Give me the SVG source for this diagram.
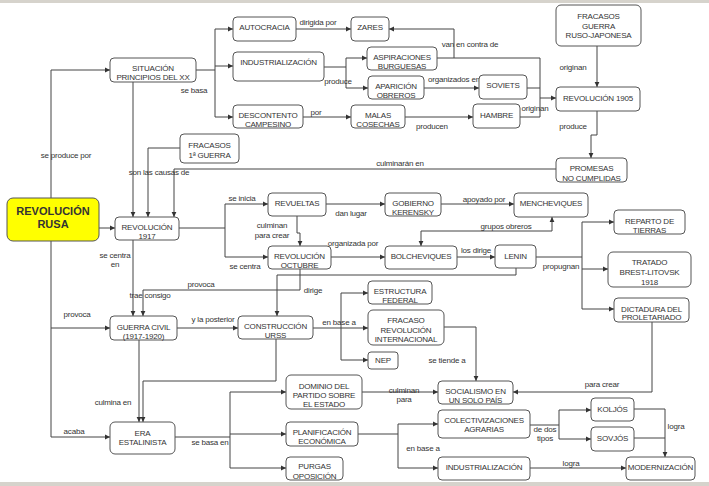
<svg xmlns="http://www.w3.org/2000/svg" width="709" height="486" viewBox="0 0 709 486">
<style>
.n rect{fill:#fff;stroke:#555;stroke-width:1}
text{font-family:"Liberation Sans",Arial,sans-serif;font-size:8px;fill:#333;text-anchor:middle;letter-spacing:-0.2px}
.c path{fill:none;stroke:#444;stroke-width:1}
.big{font-size:11px;font-weight:bold;letter-spacing:0}
</style>
<defs>
<marker id="a" markerWidth="6" markerHeight="6" refX="5" refY="3" orient="auto" markerUnits="userSpaceOnUse"><path d="M0,0.6 L5,3 L0,5.4 z" fill="#333"/></marker>
</defs>
<rect x="0" y="0" width="709" height="486" fill="#fff"/>
<rect x="0" y="0" width="709" height="3" fill="#d6d3cc"/>
<rect x="0" y="482" width="709" height="4" fill="#d6d3cc"/>

<g class="c">
<path d="M51,198 V70 H110" marker-end="url(#a)"/>
<path d="M99,228 H115" marker-end="url(#a)"/>
<path d="M51,241 V437 H110" marker-end="url(#a)"/>
<path d="M51,328 H110" marker-end="url(#a)"/>
<path d="M196,70 H215 M215,29 V117"/>
<path d="M215,29 H233" marker-end="url(#a)"/>
<path d="M215,66 H233" marker-end="url(#a)"/>
<path d="M215,117 H233" marker-end="url(#a)"/>
<path d="M133,82 V217" marker-end="url(#a)"/>
<path d="M180,148 H148 V217" marker-end="url(#a)"/>
<path d="M556,169 H174 V217" marker-end="url(#a)"/>
<path d="M296,29 H351" marker-end="url(#a)"/>
<path d="M324,67 H346 M346,58 V88"/>
<path d="M346,58 H367" marker-end="url(#a)"/>
<path d="M346,88 H368" marker-end="url(#a)"/>
<path d="M437,58 H540"/>
<path d="M454,58 V29 H389" marker-end="url(#a)"/>
<path d="M424,88 H479" marker-end="url(#a)"/>
<path d="M527,88 H540 M520,117 H540 M540,58 V117"/>
<path d="M540,98 H556" marker-end="url(#a)"/>
<path d="M303,117 H351" marker-end="url(#a)"/>
<path d="M405,117 H473" marker-end="url(#a)"/>
<path d="M597,46 V87" marker-end="url(#a)"/>
<path d="M597,111 V135 H591 V158" marker-end="url(#a)"/>
<path d="M179,228 H225 M225,204 V257"/>
<path d="M225,204 H268" marker-end="url(#a)"/>
<path d="M225,257 H268" marker-end="url(#a)"/>
<path d="M326,204 H385" marker-end="url(#a)"/>
<path d="M297,216 V233 H300 V246" marker-end="url(#a)"/>
<path d="M331,257 H385" marker-end="url(#a)"/>
<path d="M441,204 H514" marker-end="url(#a)"/>
<path d="M421,231 V246" marker-end="url(#a)"/>
<path d="M421,231 H552 V217" marker-end="url(#a)"/>
<path d="M457,257 H495" marker-end="url(#a)"/>
<path d="M536,257 H582 M582,222 V309"/>
<path d="M582,222 H614" marker-end="url(#a)"/>
<path d="M582,269 H608" marker-end="url(#a)"/>
<path d="M582,309 H614" marker-end="url(#a)"/>
<path d="M516,268 V275 H277 V316" marker-end="url(#a)"/>
<path d="M300,269 V290 H143 V316" marker-end="url(#a)"/>
<path d="M133,240 V316" marker-end="url(#a)"/>
<path d="M177,328 H238" marker-end="url(#a)"/>
<path d="M139,340 V422" marker-end="url(#a)"/>
<path d="M276,339 V381 H143 V422" marker-end="url(#a)"/>
<path d="M175,437 H230 M230,392 V468"/>
<path d="M230,392 H286" marker-end="url(#a)"/>
<path d="M230,434 H286" marker-end="url(#a)"/>
<path d="M230,468 H286" marker-end="url(#a)"/>
<path d="M313,328 H368" marker-end="url(#a)"/>
<path d="M341,293 V360"/>
<path d="M341,293 H368" marker-end="url(#a)"/>
<path d="M341,360 H368" marker-end="url(#a)"/>
<path d="M444,327 H476 V381" marker-end="url(#a)"/>
<path d="M362,392 H438" marker-end="url(#a)"/>
<path d="M652,322 V392 H513" marker-end="url(#a)"/>
<path d="M358,434 H398 M398,424 V468"/>
<path d="M398,424 H438" marker-end="url(#a)"/>
<path d="M398,468 H438" marker-end="url(#a)"/>
<path d="M530,425 H559 M559,410 V439"/>
<path d="M559,410 H591" marker-end="url(#a)"/>
<path d="M559,439 H591" marker-end="url(#a)"/>
<path d="M634,409 H665 M634,438 H665"/>
<path d="M665,409 V457" marker-end="url(#a)"/>
<path d="M530,468 H626" marker-end="url(#a)"/>
</g>

<g id="labels">
<text x="66" y="158">se produce por</text>
<text x="194" y="93">se basa</text>
<text x="159" y="175">son las causas de</text>
<text x="400" y="166">culminarán en</text>
<text x="318" y="25">dirigida por</text>
<text x="338" y="84">produce</text>
<text x="470" y="47">van en contra de</text>
<text x="454" y="82">organizados en</text>
<text x="535" y="111">originan</text>
<text x="316" y="115">por</text>
<text x="432" y="129">producen</text>
<text x="573" y="70">originan</text>
<text x="573" y="129">produce</text>
<text x="242" y="201">se inicia</text>
<text x="245" y="269">se centra</text>
<text x="351" y="216">dan lugar</text>
<text x="272" y="228">culminan</text>
<text x="272" y="238">para crear</text>
<text x="353" y="246">organizada por</text>
<text x="484" y="202">apoyado por</text>
<text x="506" y="228.5">grupos obreros</text>
<text x="476" y="253">los dirige</text>
<text x="561" y="269">propugnan</text>
<text x="313" y="293">dirige</text>
<text x="201" y="287">provoca</text>
<text x="150" y="298">trae consigo</text>
<text x="115" y="258">se centra</text>
<text x="115" y="267">en</text>
<text x="77" y="317">provoca</text>
<text x="74" y="434">acaba</text>
<text x="213" y="322">y la posterior</text>
<text x="113" y="405">culmina en</text>
<text x="210" y="445">se basa en</text>
<text x="339" y="325">en base a</text>
<text x="447" y="363">se tiende a</text>
<text x="404" y="393">culminan</text>
<text x="404" y="402">para</text>
<text x="602" y="387">para crear</text>
<text x="423" y="451">en base a</text>
<text x="545" y="432">de dos</text>
<text x="545" y="441">tipos</text>
<text x="676" y="429">logra</text>
<text x="571" y="465.5">logra</text>
</g>

<g id="rusa" class="n"><rect x="7" y="198" width="92" height="43" rx="6" style="fill:#ffff00"/><text class="big" x="53" y="215">REVOLUCIÓN</text><text class="big" x="53" y="227.5">RUSA</text></g>
<g id="situacion" class="n"><rect x="110" y="58" width="86" height="24" rx="4"/><text x="153" y="71">SITUACIÓN</text><text x="153" y="80">PRINCIPIOS DEL XX</text></g>
<g id="fracasos1" class="n"><rect x="180" y="134" width="59" height="29" rx="4"/><text x="209.5" y="148">FRACASOS</text><text x="209.5" y="157.5">1ª GUERRA</text></g>
<g id="autocracia" class="n"><rect x="233" y="17" width="63" height="24" rx="4"/><text x="264.5" y="30">AUTOCRACIA</text></g>
<g id="zares" class="n"><rect x="351" y="17" width="38" height="24" rx="4"/><text x="370" y="30">ZARES</text></g>
<g id="industrializacion" class="n"><rect x="233" y="52" width="91" height="29" rx="4"/><text x="278.5" y="65">INDUSTRIALIZACIÓN</text></g>
<g id="aspiraciones" class="n"><rect x="367" y="47" width="70" height="23" rx="4"/><text x="402" y="59.5">ASPIRACIONES</text><text x="402" y="68.5">BURGUESAS</text></g>
<g id="aparicion" class="n"><rect x="368" y="76" width="56" height="23" rx="4"/><text x="396" y="89">APARICIÓN</text><text x="396" y="98">OBREROS</text></g>
<g id="descontento" class="n"><rect x="233" y="105" width="70" height="23" rx="4"/><text x="268" y="118">DESCONTENTO</text><text x="268" y="127">CAMPESINO</text></g>
<g id="malas" class="n"><rect x="351" y="105" width="54" height="23" rx="4"/><text x="378" y="118">MALAS</text><text x="378" y="127">COSECHAS</text></g>
<g id="soviets" class="n"><rect x="479" y="75" width="48" height="24" rx="4"/><text x="503" y="88">SOVIETS</text></g>
<g id="hambre" class="n"><rect x="473" y="104" width="47" height="24" rx="4"/><text x="496.5" y="118">HAMBRE</text></g>
<g id="rusojaponesa" class="n"><rect x="556" y="5" width="85" height="41" rx="5"/><text x="598.5" y="19">FRACASOS</text><text x="598.5" y="28.5">GUERRA</text><text x="598.5" y="38">RUSO-JAPONESA</text></g>
<g id="rev1905" class="n"><rect x="556" y="87" width="84" height="24" rx="4"/><text x="598" y="100.5">REVOLUCIÓN 1905</text></g>
<g id="promesas" class="n"><rect x="556" y="158" width="71" height="24" rx="4"/><text x="591.5" y="171">PROMESAS</text><text x="591.5" y="180.5">NO CUMPLIDAS</text></g>
<g id="rev1917" class="n"><rect x="115" y="217" width="64" height="23" rx="4"/><text x="147" y="229.5">REVOLUCIÓN</text><text x="147" y="239">1917</text></g>
<g id="revueltas" class="n"><rect x="268" y="193" width="58" height="23" rx="4"/><text x="297" y="206">REVUELTAS</text></g>
<g id="kerensky" class="n"><rect x="385" y="193" width="56" height="23" rx="4"/><text x="413" y="206">GOBIERNO</text><text x="413" y="215">KERENSKY</text></g>
<g id="octubre" class="n"><rect x="268" y="246" width="63" height="23" rx="4"/><text x="299.5" y="258.5">REVOLUCIÓN</text><text x="299.5" y="267.5">OCTUBRE</text></g>
<g id="bolcheviques" class="n"><rect x="385" y="246" width="72" height="23" rx="4"/><text x="421" y="258.5">BOLCHEVIQUES</text></g>
<g id="mencheviques" class="n"><rect x="514" y="193" width="74" height="24" rx="4"/><text x="551" y="205.5">MENCHEVIQUES</text></g>
<g id="lenin" class="n"><rect x="495" y="245" width="41" height="23" rx="4"/><text x="515.5" y="259">LENIN</text></g>
<g id="reparto" class="n"><rect x="614" y="210" width="71" height="24" rx="4"/><text x="649.5" y="223.5">REPARTO DE</text><text x="649.5" y="233">TIERRAS</text></g>
<g id="tratado" class="n"><rect x="608" y="252" width="83" height="35" rx="5"/><text x="649.5" y="265">TRATADO</text><text x="649.5" y="275">BREST-LITOVSK</text><text x="649.5" y="284.5">1918</text></g>
<g id="dictadura" class="n"><rect x="614" y="298" width="75" height="24" rx="4"/><text x="651.5" y="311.5">DICTADURA DEL</text><text x="651.5" y="320">PROLETARIADO</text></g>
<g id="estructura" class="n"><rect x="368" y="281" width="64" height="23" rx="4"/><text x="400" y="294">ESTRUCTURA</text><text x="400" y="303">FEDERAL</text></g>
<g id="fracasori" class="n"><rect x="368" y="310" width="76" height="35" rx="5"/><text x="406" y="323">FRACASO</text><text x="406" y="333">REVOLUCIÓN</text><text x="406" y="342">INTERNACIONAL</text></g>
<g id="nep" class="n"><rect x="368" y="352" width="30" height="17" rx="3"/><text x="383" y="363">NEP</text></g>
<g id="construccion" class="n"><rect x="238" y="316" width="75" height="23" rx="4"/><text x="275.5" y="329">CONSTRUCCIÓN</text><text x="275.5" y="338">URSS</text></g>
<g id="guerracivil" class="n"><rect x="110" y="316" width="67" height="24" rx="4"/><text x="143.5" y="329.5">GUERRA CIVIL</text><text x="143.5" y="338.5">(1917-1920)</text></g>
<g id="era" class="n"><rect x="110" y="422" width="65" height="32" rx="5"/><text x="142.5" y="435.5">ERA</text><text x="142.5" y="444.5">ESTALINISTA</text></g>
<g id="dominio" class="n"><rect x="286" y="375" width="76" height="34" rx="5"/><text x="324" y="389">DOMINIO DEL</text><text x="324" y="398">PARTIDO SOBRE</text><text x="324" y="407">EL ESTADO</text></g>
<g id="planificacion" class="n"><rect x="286" y="422" width="72" height="24" rx="4"/><text x="322" y="434.5">PLANIFICACIÓN</text><text x="322" y="443.5">ECONÓMICA</text></g>
<g id="purgas" class="n"><rect x="286" y="457" width="57" height="23" rx="4"/><text x="314.5" y="469">PURGAS</text><text x="314.5" y="478.5">OPOSICIÓN</text></g>
<g id="socialismo" class="n"><rect x="438" y="381" width="75" height="23" rx="4"/><text x="475.5" y="393.5">SOCIALISMO EN</text><text x="475.5" y="403">UN SOLO PAÍS</text></g>
<g id="colectivizaciones" class="n"><rect x="438" y="410" width="92" height="28" rx="4"/><text x="484" y="423">COLECTIVIZACIONES</text><text x="484" y="432">AGRARIAS</text></g>
<g id="industrializacion2" class="n"><rect x="438" y="457" width="92" height="23" rx="4"/><text x="484" y="469.5">INDUSTRIALIZACIÓN</text></g>
<g id="koljos" class="n"><rect x="591" y="398" width="43" height="23" rx="4"/><text x="612.5" y="412">KOLJÓS</text></g>
<g id="sovjos" class="n"><rect x="591" y="427" width="43" height="24" rx="4"/><text x="612.5" y="440.5">SOVJÓS</text></g>
<g id="modernizacion" class="n"><rect x="626" y="457" width="69" height="23" rx="4"/><text x="660.5" y="469.5">MODERNIZACIÓN</text></g>
</svg>
